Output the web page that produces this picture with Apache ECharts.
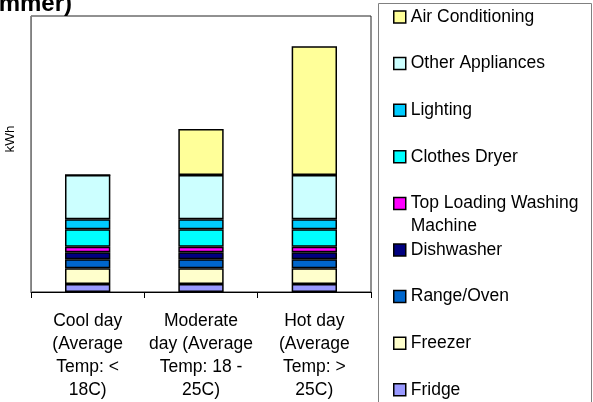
<!DOCTYPE html>
<html>
<head>
<meta charset="utf-8">
<script src="https://cdn.jsdelivr.net/npm/echarts@6/dist/echarts.min.js"></script>
<style>
  html, body { margin: 0; padding: 0; background: #fff; }
  #chart { width: 593px; height: 402px; }
</style>
</head>
<body>
<div id="chart"></div>
<script>
// day types (x axis)
var categories = [
  'Cool day\n(Average\nTemp: <\n18C)',
  'Moderate\nday (Average\nTemp: 18 -\n25C)',
  'Hot day\n(Average\nTemp: >\n25C)'
]

// kWh per appliance, bottom of the stack first
var fridge = [0.87, 0.87, 0.87]
var freezer = [1.71, 1.71, 1.71]
var rangeOven = [0.98, 0.98, 0.98]
var dishwasher = [0.76, 0.76, 0.76]
var washingMachine = [0.61, 0.61, 0.61]
var clothesDryer = [1.89, 1.89, 1.89]
var lighting = [1.09, 1.09, 1.09]
var otherAppliances = [4.82, 4.82, 4.82]
var airConditioning = [0, 5.0, 13.97]

var seriesNames = [
  'Fridge', 'Freezer', 'Range/Oven', 'Dishwasher', 'Top Loading Washing\nMachine',
  'Clothes Dryer', 'Lighting', 'Other Appliances', 'Air Conditioning'
]
var seriesData = [
  fridge, freezer, rangeOven, dishwasher, washingMachine,
  clothesDryer, lighting, otherAppliances, airConditioning
]
var colors = [
  '#9999ff', '#ffffcc', '#0066cc', '#000080', '#ff00ff',
  '#00ffff', '#00ccff', '#ccffff', '#ffff99'
]

var font = '"Liberation Sans", Arial, sans-serif'

// one legend per entry so the two-line entry keeps the even spacing
var legendOrder = seriesNames.slice().reverse()
var legends = legendOrder.map(function (name, i) {
  var cy = 17 + i * 46.6
  var twoLines = name.indexOf('\n') >= 0
  return {
    orient: 'vertical',
    left: 393,
    top: twoLines ? cy - 34.5 : cy - 11.5,
    padding: 0,
    itemWidth: 12,
    itemHeight: 12,
    icon: 'rect',
    selectedMode: false,
    itemStyle: { borderColor: '#000', borderWidth: 1.5 },
    // blank first line keeps the first text line level with the marker
    formatter: function (n) { return twoLines ? ' \n' + n : n },
    textStyle: {
      fontFamily: font,
      fontSize: 17.5,
      color: '#000',
      lineHeight: 23
    },
    data: [name]
  }
})

var chart = echarts.init(document.getElementById('chart'))
chart.setOption({
  animation: false,
  title: {
    text: 'Daily Household Electricity Use (Summer)',
    right: 521,
    top: -8,
    padding: 0,
    textStyle: {
      fontFamily: font,
      fontSize: 24,
      fontWeight: 'bold',
      color: '#000'
    }
  },
  graphic: [
    {
      type: 'rect',
      shape: { x: 378.5, y: 3.5, width: 213, height: 420 },
      style: { fill: 'none', stroke: '#808080', lineWidth: 1 }
    }
  ],
  legend: legends,
  grid: {
    left: 31,
    right: 222,
    top: 16,
    bottom: 110,
    outerBoundsMode: 'none',
    show: true,
    borderColor: '#222',
    borderWidth: 1
  },
  xAxis: {
    type: 'category',
    data: categories,
    axisLine: { lineStyle: { color: '#000', width: 1 } },
    axisTick: { show: true, inside: false, length: 6, lineStyle: { color: '#000' } },
    axisLabel: {
      margin: 18,
      interval: 0,
      fontFamily: font,
      fontSize: 17.5,
      lineHeight: 23,
      color: '#000'
    }
  },
  yAxis: {
    type: 'value',
    min: 0,
    max: 30,
    name: 'kWh',
    nameLocation: 'middle',
    nameGap: 14,
    nameRotate: 90,
    nameTextStyle: {
      fontFamily: font,
      fontSize: 13.5,
      color: '#000',
      padding: [0, 0, 0, 30]
    },
    axisLine: { show: true, lineStyle: { color: '#808080', width: 1 } },
    axisTick: { show: false },
    axisLabel: { show: false },
    splitLine: { show: false }
  },
  series: seriesNames.map(function (name, i) {
    return {
      name: name,
      type: 'bar',
      stack: 'total',
      barWidth: '40%',
      data: seriesData[i],
      itemStyle: {
        color: colors[i],
        borderColor: '#000',
        borderWidth: 1.5
      }
    }
  })
})
</script>
</body>
</html>
